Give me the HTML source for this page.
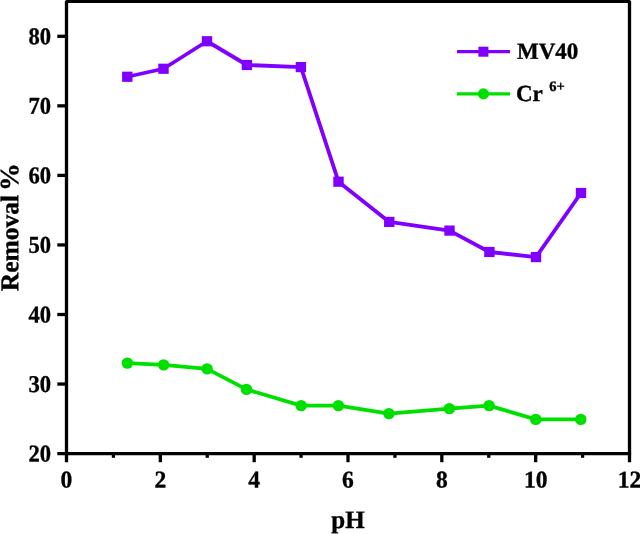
<!DOCTYPE html>
<html><head><meta charset="utf-8"><title>chart</title>
<style>html,body{margin:0;padding:0;background:#fff;font-family:"Liberation Serif",serif}</style>
</head><body>
<div style="will-change:transform;width:640px;height:534px;overflow:hidden">
<svg width="640" height="534" viewBox="0 0 640 534" style="display:block">
<rect width="640" height="534" fill="#fff"/>
<polyline fill="none" stroke="#7F00FF" stroke-width="3.8" stroke-linejoin="round" points="127.30,76.75 163.50,68.75 207.00,41.25 246.90,65.00 300.90,67.10 338.50,181.70 389.25,221.90 449.50,230.60 489.40,252.00 536.00,257.10 581.00,193.00"/>
<rect x="122.10" y="71.65" width="10.4" height="10.2" fill="#7F00FF"/>
<rect x="158.30" y="63.65" width="10.4" height="10.2" fill="#7F00FF"/>
<rect x="201.80" y="36.15" width="10.4" height="10.2" fill="#7F00FF"/>
<rect x="241.70" y="59.90" width="10.4" height="10.2" fill="#7F00FF"/>
<rect x="295.70" y="62.00" width="10.4" height="10.2" fill="#7F00FF"/>
<rect x="333.30" y="176.60" width="10.4" height="10.2" fill="#7F00FF"/>
<rect x="384.05" y="216.80" width="10.4" height="10.2" fill="#7F00FF"/>
<rect x="444.30" y="225.50" width="10.4" height="10.2" fill="#7F00FF"/>
<rect x="484.20" y="246.90" width="10.4" height="10.2" fill="#7F00FF"/>
<rect x="530.80" y="252.00" width="10.4" height="10.2" fill="#7F00FF"/>
<rect x="575.80" y="187.90" width="10.4" height="10.2" fill="#7F00FF"/>
<polyline fill="none" stroke="#00E000" stroke-width="3.8" stroke-linejoin="round" points="127.40,363.10 163.60,364.90 207.10,368.90 246.50,389.40 301.10,405.60 338.40,405.60 388.90,413.60 449.40,408.60 489.10,405.60 535.75,419.40 580.75,419.40"/>
<circle cx="127.40" cy="363.10" r="5.7" fill="#00E000"/>
<circle cx="163.60" cy="364.90" r="5.7" fill="#00E000"/>
<circle cx="207.10" cy="368.90" r="5.7" fill="#00E000"/>
<circle cx="246.50" cy="389.40" r="5.7" fill="#00E000"/>
<circle cx="301.10" cy="405.60" r="5.7" fill="#00E000"/>
<circle cx="338.40" cy="405.60" r="5.7" fill="#00E000"/>
<circle cx="388.90" cy="413.60" r="5.7" fill="#00E000"/>
<circle cx="449.40" cy="408.60" r="5.7" fill="#00E000"/>
<circle cx="489.10" cy="405.60" r="5.7" fill="#00E000"/>
<circle cx="535.75" cy="419.40" r="5.7" fill="#00E000"/>
<circle cx="580.75" cy="419.40" r="5.7" fill="#00E000"/>
<g stroke="#000" stroke-width="3.3" fill="none" stroke-linecap="butt">
<path stroke-linejoin="bevel" d="M66.50 462.2V1.3H629.50V462.2"/>
<path d="M57.3 453.60H631.10"/>
<path d="M57.3 384.05H66.50"/>
<path d="M57.3 314.50H66.50"/>
<path d="M57.3 244.95H66.50"/>
<path d="M57.3 175.40H66.50"/>
<path d="M57.3 105.85H66.50"/>
<path d="M57.3 36.30H66.50"/>
<path d="M160.33 453.60V462.2"/>
<path d="M254.17 453.60V462.2"/>
<path d="M348.00 453.60V462.2"/>
<path d="M441.83 453.60V462.2"/>
<path d="M535.67 453.60V462.2"/>
<path d="M113.42 453.60V457.8"/>
<path d="M207.25 453.60V457.8"/>
<path d="M301.08 453.60V457.8"/>
<path d="M394.92 453.60V457.8"/>
<path d="M488.75 453.60V457.8"/>
<path d="M582.58 453.60V457.8"/>
</g>
<g font-family="'Liberation Serif', serif" font-weight="bold" fill="#000" stroke="#000" stroke-width="0.35" stroke-linejoin="round" text-rendering="geometricPrecision">
<text transform="translate(51.00 461.50) rotate(0.03) scale(0.94 1)" font-size="24" text-anchor="end">20</text>
<text transform="translate(51.00 391.95) rotate(0.03) scale(0.94 1)" font-size="24" text-anchor="end">30</text>
<text transform="translate(51.00 322.40) rotate(0.03) scale(0.94 1)" font-size="24" text-anchor="end">40</text>
<text transform="translate(51.00 252.85) rotate(0.03) scale(0.94 1)" font-size="24" text-anchor="end">50</text>
<text transform="translate(51.00 183.30) rotate(0.03) scale(0.94 1)" font-size="24" text-anchor="end">60</text>
<text transform="translate(51.00 113.75) rotate(0.03) scale(0.94 1)" font-size="24" text-anchor="end">70</text>
<text transform="translate(51.00 44.20) rotate(0.03) scale(0.94 1)" font-size="24" text-anchor="end">80</text>
<text transform="translate(66.50 487.60) rotate(0.03) scale(0.98 1)" font-size="24" text-anchor="middle">0</text>
<text transform="translate(160.33 487.60) rotate(0.03) scale(0.98 1)" font-size="24" text-anchor="middle">2</text>
<text transform="translate(254.17 487.60) rotate(0.03) scale(0.98 1)" font-size="24" text-anchor="middle">4</text>
<text transform="translate(348.00 487.60) rotate(0.03) scale(0.98 1)" font-size="24" text-anchor="middle">6</text>
<text transform="translate(441.83 487.60) rotate(0.03) scale(0.98 1)" font-size="24" text-anchor="middle">8</text>
<text transform="translate(535.67 487.60) rotate(0.03) scale(0.98 1)" font-size="24" text-anchor="middle">10</text>
<text transform="translate(629.50 487.60) rotate(0.03) scale(0.98 1)" font-size="24" text-anchor="middle">12</text>
<text transform="translate(348.00 528.00) rotate(0.03)" font-size="25" text-anchor="middle">pH</text>
<text transform="translate(18.30 291.20) rotate(-89.97)" font-size="25.5" text-anchor="start">Removal</text>
<text transform="translate(18.30 191.00) rotate(-89.97) scale(1.05 1)" font-size="26.5" text-anchor="start">%</text>
<text transform="translate(517.00 58.80) rotate(0.03)" font-size="23" text-anchor="start">MV40</text>
<text transform="translate(516.00 101.00) rotate(0.03)" font-size="23" text-anchor="start">Cr</text>
<text transform="translate(549.30 90.90) rotate(0.03)" font-size="14.5" text-anchor="start">6+</text>
</g>
<path d="M457 51.6H510" stroke="#7F00FF" stroke-width="3.2"/>
<rect x="478.4" y="46.7" width="10" height="10" fill="#7F00FF"/>
<path d="M457 93.8H510" stroke="#00E000" stroke-width="3.2"/>
<circle cx="483.4" cy="93.9" r="5.6" fill="#00E000"/>
</svg>
</div>
</body></html>
